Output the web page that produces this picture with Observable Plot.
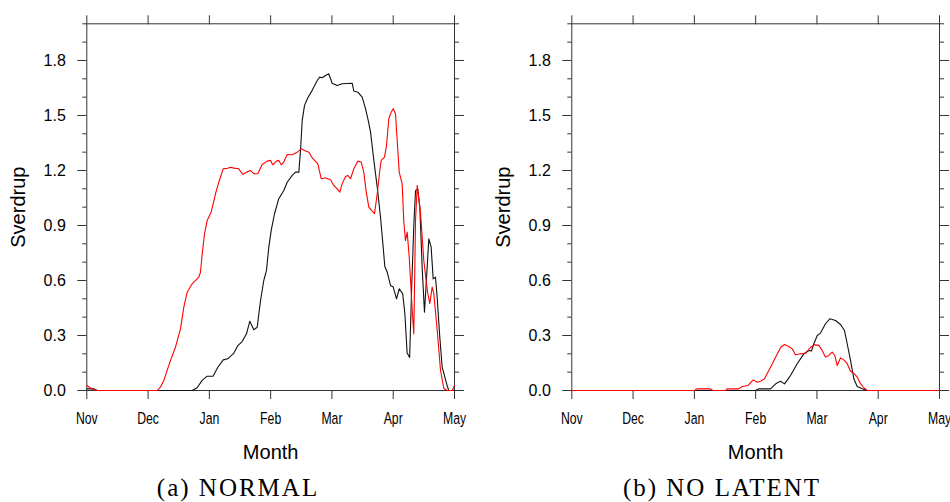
<!DOCTYPE html>
<html><head><meta charset="utf-8">
<script src="https://cdn.jsdelivr.net/npm/d3@7"></script>
<script src="https://cdn.jsdelivr.net/npm/@observablehq/plot@0.6"></script>
<style>
body{margin:0;background:#fff;width:950px;height:502px;overflow:hidden;position:relative;font-family:"Liberation Sans",Arial,sans-serif}
.panel{position:absolute;top:0}
.cap{position:absolute;top:473px;font-family:"Liberation Serif","Times New Roman",serif;font-size:25px;letter-spacing:2px;line-height:30px;white-space:nowrap;transform:translateX(-50%);color:#000}
</style></head><body>
<div id="a" class="panel" style="left:0;width:475px"></div>
<div id="b" class="panel" style="left:485px;width:465px"></div>
<div class="cap" style="left:238px">(a) NORMAL</div>
<div class="cap" style="left:722px">(b) NO LATENT</div>
<script>
const months = ["Nov","Dec","Jan","Feb","Mar","Apr","May"];
const monthPos = [0,1,2,3,4,5,6];
const majorY = [0,0.3,0.6,0.9,1.2,1.5,1.8];
const minorY = [0.1,0.2,0.4,0.5,0.7,0.8,1.0,1.1,1.3,1.4,1.6,1.7,1.9,2.0];

// (a) NORMAL — [month, Sverdrup]
const normalBlack = [[0,0.009],[0.114,0.009],[0.17,0],[1.72,0],[1.80,0.015],[1.883,0.055],[1.964,0.078],[2.06,0.078],[2.138,0.127],[2.226,0.167],[2.30,0.173],[2.40,0.204],[2.465,0.245],[2.535,0.267],[2.606,0.309],[2.66,0.378],[2.725,0.331],[2.78,0.345],[2.835,0.491],[2.888,0.60],[2.932,0.655],[2.97,0.782],[3.009,0.873],[3.063,0.964],[3.133,1.046],[3.215,1.091],[3.27,1.136],[3.352,1.173],[3.406,1.191],[3.46,1.191],[3.487,1.309],[3.515,1.473],[3.553,1.555],[3.607,1.597],[3.678,1.637],[3.76,1.691],[3.80,1.709],[3.841,1.706],[3.895,1.718],[3.949,1.727],[4.004,1.676],[4.086,1.664],[4.167,1.673],[4.331,1.676],[4.357,1.633],[4.422,1.627],[4.494,1.60],[4.548,1.537],[4.592,1.473],[4.63,1.409],[4.684,1.255],[4.739,1.109],[4.793,0.945],[4.836,0.782],[4.863,0.676],[4.902,0.645],[4.956,0.573],[5.0,0.564],[5.054,0.50],[5.098,0.555],[5.155,0.527],[5.19,0.42],[5.227,0.205],[5.268,0.18],[5.30,0.55],[5.336,0.9],[5.364,1.09],[5.40,1.10],[5.434,1.0],[5.472,0.673],[5.51,0.427],[5.554,0.673],[5.581,0.827],[5.619,0.782],[5.652,0.609],[5.69,0.618],[5.717,0.509],[5.76,0.291],[5.799,0.127],[5.88,0.027],[5.907,0],[6.0,0]];
const normalRed = [[0,0.027],[0.08,0.01],[0.17,0],[1.15,0],[1.20,0.018],[1.257,0.055],[1.366,0.164],[1.447,0.236],[1.529,0.336],[1.583,0.455],[1.638,0.536],[1.72,0.582],[1.828,0.618],[1.855,0.645],[1.883,0.745],[1.921,0.855],[1.964,0.927],[2.03,0.973],[2.10,1.073],[2.154,1.136],[2.226,1.209],[2.30,1.212],[2.345,1.218],[2.40,1.213],[2.48,1.209],[2.546,1.178],[2.606,1.191],[2.671,1.20],[2.725,1.182],[2.79,1.182],[2.862,1.233],[2.944,1.251],[2.998,1.255],[3.035,1.231],[3.096,1.251],[3.133,1.255],[3.172,1.231],[3.215,1.246],[3.27,1.287],[3.352,1.286],[3.433,1.30],[3.499,1.318],[3.553,1.309],[3.623,1.30],[3.678,1.269],[3.77,1.236],[3.825,1.155],[3.867,1.158],[3.884,1.160],[3.933,1.155],[3.977,1.150],[4.031,1.118],[4.086,1.10],[4.129,1.082],[4.167,1.127],[4.222,1.167],[4.259,1.173],[4.303,1.155],[4.357,1.209],[4.422,1.251],[4.478,1.246],[4.52,1.191],[4.56,1.082],[4.602,1.0],[4.646,0.982],[4.695,0.964],[4.739,1.073],[4.781,1.20],[4.804,1.255],[4.858,1.273],[4.891,1.337],[4.928,1.482],[4.967,1.518],[5.0,1.537],[5.037,1.509],[5.065,1.364],[5.098,1.191],[5.146,1.127],[5.173,0.918],[5.20,0.818],[5.228,0.864],[5.261,0.729],[5.31,0.436],[5.336,0.309],[5.364,0.928],[5.392,1.119],[5.446,0.966],[5.499,0.709],[5.543,0.584],[5.565,0.529],[5.597,0.475],[5.636,0.564],[5.662,0.529],[5.718,0.327],[5.772,0.109],[5.826,0.011],[5.881,0],[5.963,0],[6.0,0.027]];

// (b) NO LATENT — [month, Sverdrup]
const noLatentBlack = [[0,0],[3.0,0],[3.052,0.009],[3.242,0.009],[3.34,0.04],[3.406,0.05],[3.471,0.036],[3.542,0.069],[3.569,0.082],[3.678,0.146],[3.787,0.20],[3.87,0.218],[3.91,0.215],[3.95,0.255],[4.005,0.30],[4.058,0.313],[4.14,0.364],[4.21,0.391],[4.303,0.382],[4.385,0.36],[4.45,0.327],[4.494,0.255],[4.548,0.164],[4.602,0.064],[4.657,0.022],[4.739,0.009],[4.82,0],[6,0]];
const noLatentRed = [[0,0],[2.0,0],[2.05,0.009],[2.264,0.009],[2.30,0],[2.508,0],[2.536,0.009],[2.725,0.009],[2.78,0.022],[2.873,0.027],[2.96,0.058],[3.025,0.045],[3.08,0.051],[3.145,0.064],[3.20,0.10],[3.27,0.145],[3.34,0.191],[3.41,0.236],[3.471,0.251],[3.541,0.240],[3.597,0.227],[3.650,0.195],[3.732,0.200],[3.814,0.203],[3.896,0.236],[3.961,0.249],[4.031,0.246],[4.086,0.218],[4.140,0.182],[4.194,0.191],[4.249,0.209],[4.292,0.191],[4.331,0.136],[4.385,0.178],[4.439,0.167],[4.494,0.146],[4.548,0.105],[4.602,0.094],[4.657,0.073],[4.711,0.037],[4.765,0.015],[4.82,0],[6,0]];

const font = '"Liberation Sans", Arial, Helvetica, sans-serif';
const blank = () => "";

function panel(black, red, width, marginRight) {
  const svg = Plot.plot({
    width, height: 470,
    marginLeft: 86.3, marginRight, marginTop: 23.3, marginBottom: 80,
    x: {domain: [0, 6], label: null},
    y: {domain: [0, 2], label: null},
    style: {fontFamily: font, overflow: "visible", background: "white", color: "#333"},
    marks: [
      Plot.axisY(minorY, {anchor: "left", tickSize: 4, tickFormat: blank}),
      Plot.axisY(minorY, {anchor: "right", tickSize: 4, tickFormat: blank}),
      Plot.axisY(majorY, {anchor: "right", tickSize: 9, tickFormat: blank}),
      Plot.axisY(majorY, {anchor: "left", tickSize: 9, tickPadding: 12, tickFormat: d3.format(".1f"), fontSize: 16, fill: "black"}),
      Plot.axisX(monthPos, {anchor: "top", tickSize: 9, tickFormat: blank}),
      Plot.axisX(monthPos, {anchor: "bottom", tickSize: 9, tickPadding: 12, tickFormat: i => months[i], fontSize: 17, fill: "black"}),
      Plot.frame({stroke: "#333"}),
      Plot.line(black, {x: d => d[0], y: d => d[1], stroke: "#111", strokeWidth: 1.1}),
      Plot.line(red, {x: d => d[0], y: d => d[1], stroke: "#ff0000", strokeWidth: 1.1}),
      Plot.text(["Sverdrup"], {frameAnchor: "left", dx: -68, rotate: -90, textAnchor: "middle", lineAnchor: "middle", fontSize: 20, fill: "black"}),
      Plot.text(["Month"], {frameAnchor: "bottom", dy: 62, textAnchor: "middle", lineAnchor: "middle", fontSize: 20, fill: "black"})
    ]
  });
  // condensed month labels
  svg.querySelectorAll('g[aria-label="x-axis tick label"] text').forEach(t => {
    const tr = t.getAttribute("transform") || "";
    t.setAttribute("transform", tr + " scale(0.72,1)");
  });
  return svg;
}

document.getElementById("a").appendChild(panel(normalBlack, normalRed, 475, 21));
document.getElementById("b").appendChild(panel(noLatentBlack, noLatentRed, 465, 11));
</script>
</body></html>
